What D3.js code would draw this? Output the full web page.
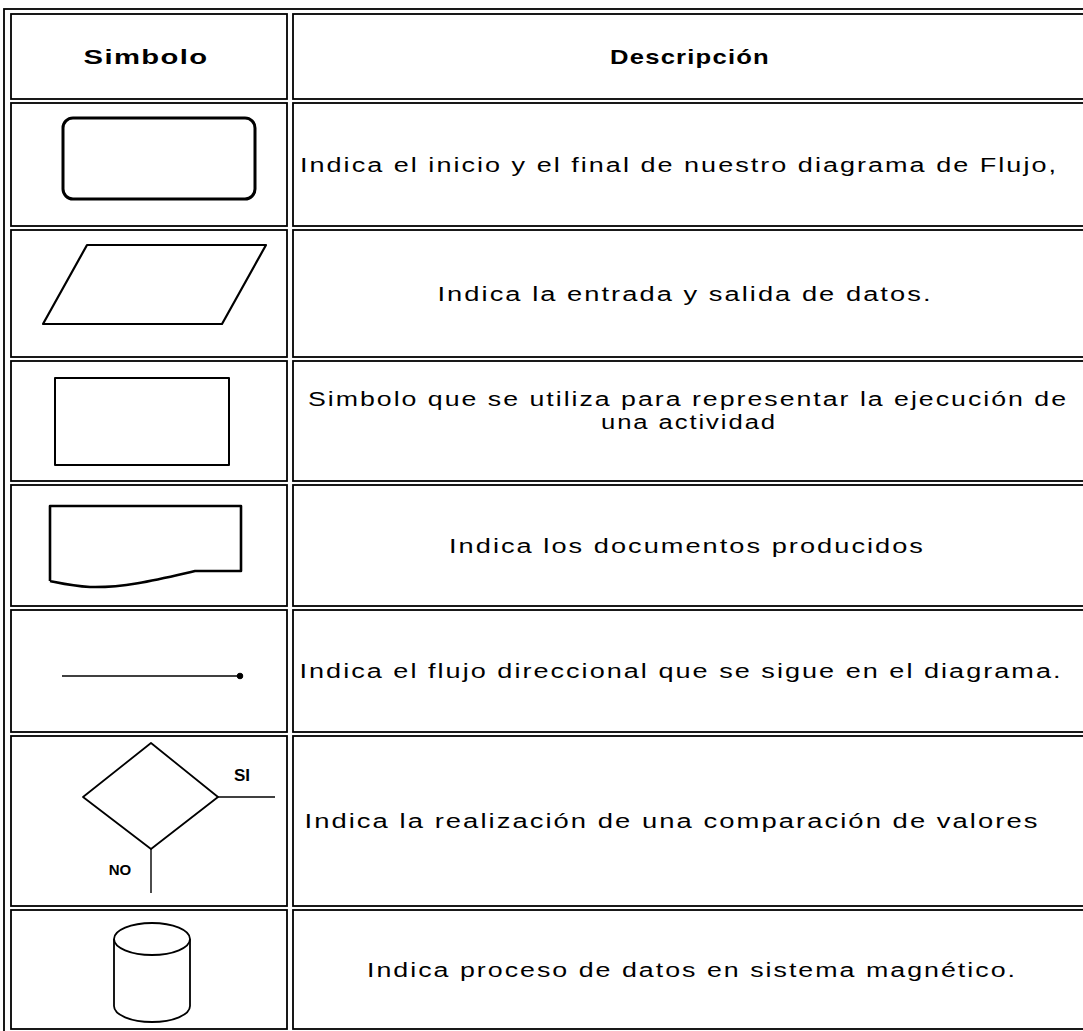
<!DOCTYPE html>
<html>
<head>
<meta charset="utf-8">
<script src="https://cdn.jsdelivr.net/npm/d3@7"></script>
<style>
  html, body { margin: 0; padding: 0; background: #fff; }
  svg { display: block; }
</style>
</head>
<body>
<svg id="chart" width="1083" height="1031"></svg>
<script>
// ---- data ----
const headers = ["Simbolo", "Descripción"];
const symbols = ["terminal", "io", "process", "document", "flow", "decision", "storage"];
const descriptions = [
  ["Indica el inicio y el final de nuestro diagrama de Flujo,"],
  ["Indica la entrada y salida de datos."],
  ["Simbolo que se utiliza para representar la ejecución de", "una actividad"],
  ["Indica los documentos producidos"],
  ["Indica el flujo direccional que se sigue en el diagrama."],
  ["Indica la realización de una comparación de valores"],
  ["Indica proceso de datos en sistema magnético."]
];
const decisionLabels = ["SI", "NO"];

// ---- layout ----
const rowKeys = ["header"].concat(symbols);
const rowTops = [14, 103, 230, 361, 485, 610, 736, 910];
const rowBottoms = [99, 226, 357, 481, 606, 732, 906, 1029];
const colKeys = ["symbol", "desc"];
const colLefts = [11, 293];
const colRights = [287, 1100];
// description text geometry (center x, width) per line
const descLayout = [
  [[679, 758]],
  [[685, 495]],
  [[688, 760], [689, 176]],
  [[687, 476]],
  [[681, 763]],
  [[672, 735]],
  [[692, 650]]
];
const headerLayout = [[146, 125], [690, 160]];

const yTop = d3.scaleOrdinal().domain(rowKeys).range(rowTops);
const yBot = d3.scaleOrdinal().domain(rowKeys).range(rowBottoms);
const xL = d3.scaleOrdinal().domain(colKeys).range(colLefts);
const xR = d3.scaleOrdinal().domain(colKeys).range(colRights);

const svg = d3.select("#chart");
const FONT = "'Liberation Sans', Arial, Helvetica, sans-serif";

// outer table border
svg.append("rect")
  .attr("x", 4).attr("y", 9)
  .attr("width", 1120).attr("height", 1040)
  .attr("fill", "none").attr("stroke", "#000").attr("stroke-width", 1.8);

// cells
const cells = [];
rowKeys.forEach(r => colKeys.forEach(c => cells.push({ r, c })));
svg.selectAll("rect.cell").data(cells).join("rect")
  .attr("class", "cell")
  .attr("x", d => xL(d.c)).attr("y", d => yTop(d.r))
  .attr("width", d => xR(d.c) - xL(d.c))
  .attr("height", d => yBot(d.r) - yTop(d.r))
  .attr("fill", "none").attr("stroke", "#000").attr("stroke-width", 1.8);

// headers
svg.selectAll("text.header").data(headers).join("text")
  .attr("class", "header")
  .attr("x", (d, i) => headerLayout[i][0])
  .attr("y", (yTop("header") + yBot("header")) / 2 + 7)
  .attr("text-anchor", "middle")
  .attr("font-family", FONT).attr("font-weight", "bold").attr("font-size", 21)
  .attr("letter-spacing", 1)
  .attr("textLength", (d, i) => headerLayout[i][1])
  .attr("lengthAdjust", "spacingAndGlyphs")
  .text(d => d);

// descriptions
symbols.forEach((s, i) => {
  const lines = descriptions[i];
  const mid = (yTop(s) + yBot(s)) / 2;
  const lh = 23;
  lines.forEach((t, j) => {
    const cy = mid + (j - (lines.length - 1) / 2) * lh - (lines.length > 1 ? 11 : 0);
    svg.append("text")
      .attr("x", descLayout[i][j][0])
      .attr("y", cy + 7)
      .attr("text-anchor", "middle")
      .attr("font-family", FONT).attr("font-size", 20)
      .attr("letter-spacing", 1.5)
      .attr("textLength", descLayout[i][j][1])
      .attr("lengthAdjust", "spacingAndGlyphs")
      .text(t);
  });
});

// symbols
const g = svg.append("g").attr("fill", "none").attr("stroke", "#000").attr("stroke-linejoin", "round");

function drawSymbol(s) {
  const y0 = yTop(s);
  if (s === "terminal") {
    g.append("rect").attr("x", 63).attr("y", y0 + 15).attr("width", 192).attr("height", 81)
      .attr("rx", 10).attr("stroke-width", 3);
  } else if (s === "io") {
    const p = d3.path();
    p.moveTo(87, y0 + 15); p.lineTo(266, y0 + 15); p.lineTo(222, y0 + 94); p.lineTo(43, y0 + 94); p.closePath();
    g.append("path").attr("d", p.toString()).attr("stroke-width", 2.2);
  } else if (s === "process") {
    g.append("rect").attr("x", 55).attr("y", y0 + 17).attr("width", 174).attr("height", 87)
      .attr("stroke-width", 2);
  } else if (s === "document") {
    const p = d3.path();
    p.moveTo(50, y0 + 96);
    p.lineTo(50, y0 + 21);
    p.lineTo(241, y0 + 21);
    p.lineTo(241, y0 + 86);
    p.lineTo(195, y0 + 86);
    p.bezierCurveTo(160, y0 + 94, 125, y0 + 103, 90, y0 + 102);
    p.bezierCurveTo(72, y0 + 101, 60, y0 + 98, 50, y0 + 96);
    g.append("path").attr("d", p.toString()).attr("stroke-width", 2.6);
  } else if (s === "flow") {
    g.append("line").attr("x1", 62).attr("x2", 240).attr("y1", y0 + 66).attr("y2", y0 + 66).attr("stroke-width", 1.6);
    g.append("circle").attr("cx", 240).attr("cy", y0 + 66).attr("r", 2.8).attr("fill", "#000");
  } else if (s === "decision") {
    const p = d3.path();
    p.moveTo(151, y0 + 7); p.lineTo(218, y0 + 61); p.lineTo(151, y0 + 113); p.lineTo(83, y0 + 61); p.closePath();
    g.append("path").attr("d", p.toString()).attr("stroke-width", 1.8);
    g.append("line").attr("x1", 218).attr("x2", 275).attr("y1", y0 + 61).attr("y2", y0 + 61).attr("stroke-width", 1.4);
    g.append("line").attr("x1", 151).attr("x2", 151).attr("y1", y0 + 113).attr("y2", y0 + 157).attr("stroke-width", 1.4);
    svg.append("text").attr("x", 242).attr("y", y0 + 45).attr("text-anchor", "middle")
      .attr("font-family", FONT).attr("font-weight", "bold").attr("font-size", 17)
      .text(decisionLabels[0]);
    svg.append("text").attr("x", 120).attr("y", y0 + 139).attr("text-anchor", "middle")
      .attr("font-family", FONT).attr("font-weight", "bold").attr("font-size", 15)
      .text(decisionLabels[1]);
  } else if (s === "storage") {
    const cx = 152, rx = 38, ry = 16, ty = y0 + 29, by = y0 + 96;
    g.append("ellipse").attr("cx", cx).attr("cy", ty).attr("rx", rx).attr("ry", ry).attr("stroke-width", 1.8);
    const p = d3.path();
    p.moveTo(cx - rx, ty);
    p.lineTo(cx - rx, by);
    p.moveTo(cx + rx, ty);
    p.lineTo(cx + rx, by);
    g.append("path").attr("d", p.toString()).attr("stroke-width", 1.8);
    g.append("path")
      .attr("d", `M${cx - rx},${by} A${rx},${ry} 0 0 0 ${cx + rx},${by}`)
      .attr("stroke-width", 1.8);
  }
}
symbols.forEach(drawSymbol);
</script>
</body>
</html>
